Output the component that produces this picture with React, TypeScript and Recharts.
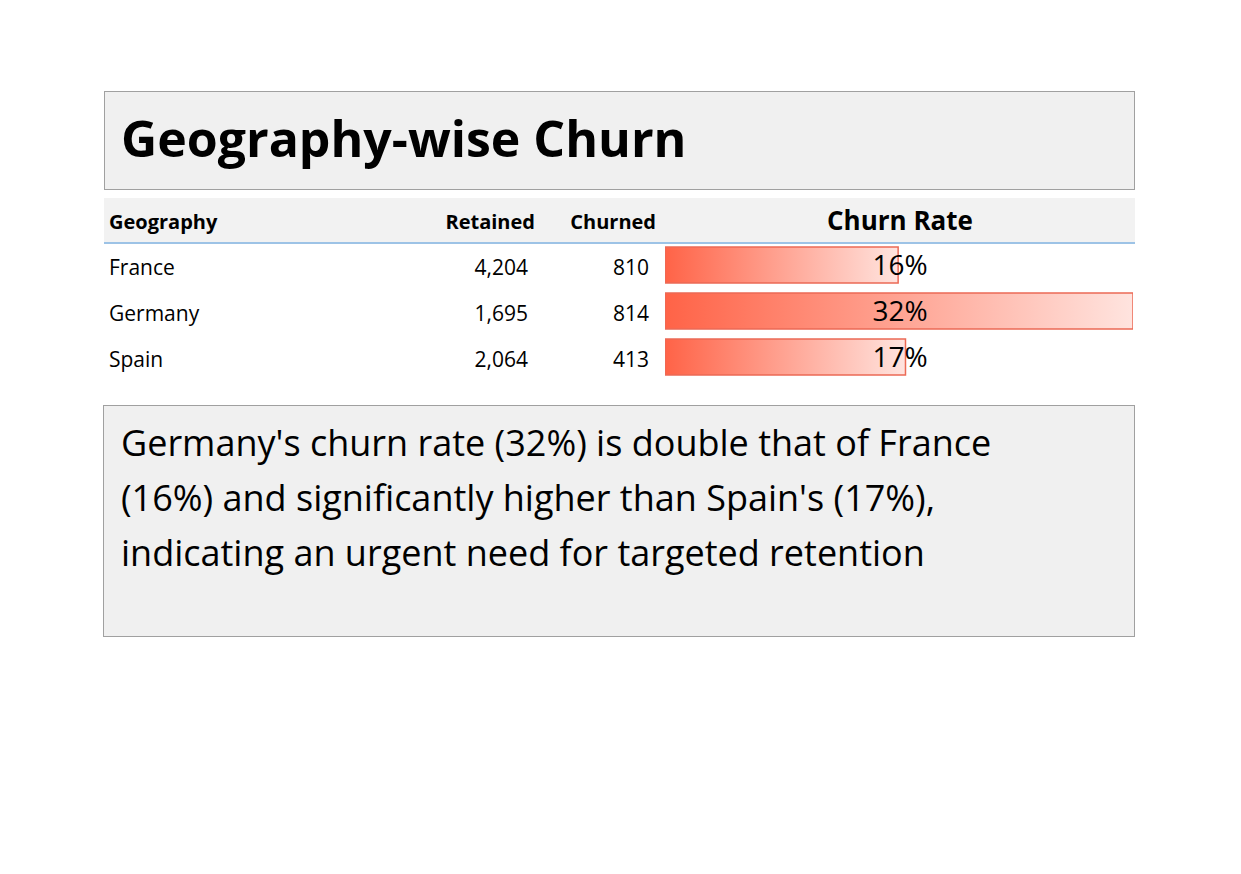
import React from "react";
import { BarChart, Bar, XAxis, YAxis } from "recharts";

const geographies = ["France", "Germany", "Spain"];
const retained = [4204, 1695, 2064];
const churned = [810, 814, 413];
const rates = [0.1616, 0.3244, 0.1667];
const rateLabels = ["16%", "32%", "17%"];

const data = geographies.map((g, i) => ({ geo: g, rate: rates[i] }));
const maxRate = Math.max(...rates);
const font = "'Open Sans', 'Noto Sans', sans-serif";
const rowTops = [244, 290, 336];

export default function App() {
  const abs = (s: React.CSSProperties): React.CSSProperties => ({ position: "absolute", ...s });
  return (
    <div style={{ position: "absolute", left: 0, top: 0, width: 1241, height: 874, background: "#fff", fontFamily: font, color: "#000" }}>
      <div style={abs({ left: 104, top: 91, width: 1029, height: 97, background: "#f0f0f0", border: "1.5px solid #a0a0a0" })} />
      <div style={abs({ left: 121, top: 103, fontSize: 50, fontWeight: 700, lineHeight: "70px", letterSpacing: 0 })}>Geography-wise Churn</div>
      <div style={abs({ left: 104, top: 198, width: 1031, height: 44, background: "#f2f2f2", borderBottom: "2px solid #9dc3e6" })} />
      <div style={abs({ left: 109, top: 208, fontSize: 20, fontWeight: 700 })}>Geography</div>
      <div style={abs({ left: 400, width: 135, textAlign: "right", top: 208, fontSize: 20, fontWeight: 700 })}>Retained</div>
      <div style={abs({ left: 520, width: 136, textAlign: "right", top: 208, fontSize: 20, fontWeight: 700 })}>Churned</div>
      <div style={abs({ left: 665, width: 470, textAlign: "center", top: 202, fontSize: 26, fontWeight: 700 })}>Churn Rate</div>
      {geographies.map((g, i) => (
        <React.Fragment key={g}>
          <div style={abs({ left: 109, top: rowTops[i] + 9, fontSize: 21 })}>{g}</div>
          <div style={abs({ left: 400, width: 128, textAlign: "right", top: rowTops[i] + 9, fontSize: 21 })}>{retained[i].toLocaleString("en-US")}</div>
          <div style={abs({ left: 520, width: 129, textAlign: "right", top: rowTops[i] + 9, fontSize: 21 })}>{churned[i]}</div>
        </React.Fragment>
      ))}
      <div style={abs({ left: 665, top: 242 })}>
        <BarChart width={468} height={138} data={data} layout="vertical" margin={{ top: 0, right: 0, bottom: 0, left: 0 }} barCategoryGap={5}>
          <defs>
            <linearGradient id="g" x1="0" y1="0" x2="1" y2="0">
              <stop offset="0%" stopColor="#ff6347" />
              <stop offset="100%" stopColor="#ffe4df" />
            </linearGradient>
          </defs>
          <XAxis type="number" domain={[0, maxRate]} hide />
          <YAxis type="category" dataKey="geo" hide />
          <Bar dataKey="rate" fill="url(#g)" stroke="#ec6a55" strokeWidth={1.5} isAnimationActive={false} />
        </BarChart>
      </div>
      {rateLabels.map((l, i) => (
        <div key={l} style={abs({ left: 665, width: 470, textAlign: "center", top: rowTops[i] + 1, fontSize: 28 })}>{l}</div>
      ))}
      <div style={abs({ left: 103, top: 405, width: 1030, height: 230, background: "#f0f0f0", border: "1.5px solid #a0a0a0" })} />
      <div style={abs({ left: 121, top: 415, width: 960, fontSize: 36, lineHeight: "55px" })}>
        Germany's churn rate (32%) is double that of France (16%) and significantly higher than Spain's (17%), indicating an urgent need for targeted retention
      </div>
    </div>
  );
}
